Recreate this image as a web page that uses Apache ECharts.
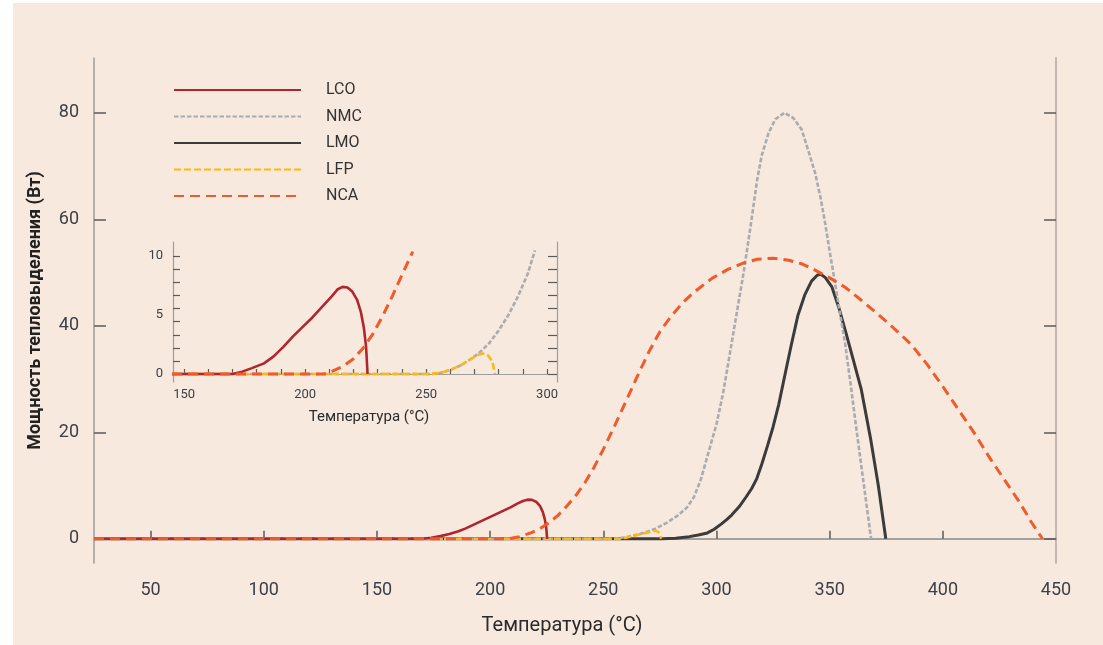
<!DOCTYPE html>
<html>
<head>
<meta charset="utf-8">
<script src="https://cdn.jsdelivr.net/npm/echarts@6/dist/echarts.min.js"></script>
<style>
html,body{margin:0;padding:0;background:#ffffff;}
#bg{position:absolute;left:13px;top:3px;width:1090px;height:642px;background:#f8e9df;}
#chart{position:absolute;left:0;top:0;width:1103px;height:645px;}
</style>
</head>
<body>
<div id="bg"></div>
<div id="chart"></div>
<script>
// ---- data (temperature °C, heat power W) ----
const seriesNames = ['LCO', 'NMC', 'LMO', 'LFP', 'NCA'];
const xTickValues = [50, 100, 150, 200, 250, 300, 350, 400, 450];
const yTickValues = [0, 20, 40, 60, 80];

const LCO = [[25,0],[170,0],[174,0.2],[178,0.5],[182,0.9],[186,1.4],[189,1.9],[193,2.7],[197,3.5],[201,4.3],[205,5.1],[209,5.9],[212,6.6],[214.5,7.1],[216.5,7.35],[218.5,7.3],[220.5,6.9],[222,6.2],[223.3,5.0],[224.2,3.6],[224.8,2.0],[225.2,0]];
const NMC = [[25,0],[255,0],[260,0.3],[265,0.8],[270,1.4],[273,1.9],[278,3.0],[283,4.4],[287,5.9],[290,7.8],[293,11],[297,17],[300,21.5],[303,27.5],[306,35],[309,42.5],[312,50],[315,58.5],[318,67.5],[320,72],[323,76.2],[326,78.8],[330,80],[334,79],[337.7,76.8],[340.5,73],[343.6,68.7],[346,64],[348,59.3],[350,54],[352.4,48],[354.5,42.5],[356.8,36.8],[359.4,28.6],[362,20],[365,10.5],[368.3,0]];
const LMO = [[25,0],[276,0],[282,0.1],[288,0.4],[292,0.7],[296,1.1],[299,1.8],[302.2,2.8],[304.5,3.6],[306.8,4.5],[310,6.0],[313,7.8],[315.5,9.4],[317.7,11.2],[320,14],[322.5,17.4],[325,21],[327.5,25.2],[330,30.3],[333,36.3],[336,42],[339,45.8],[342,48.4],[344.5,49.5],[346,49.7],[348,49.1],[351,47.3],[354,43.5],[357,39],[360,34.3],[364,28],[368,19],[371.5,10],[374.8,0]];
const LFP = [[25,0],[257,0],[260,0.2],[264,0.6],[268,1.0],[271,1.35],[273,1.5],[274.3,1.3],[275,0.8],[275.5,0]];
const NCA = [[25,0],[208,0],[213,0.4],[218,1.1],[222,1.9],[226,3.0],[230,4.4],[234,6.2],[238,8.2],[242,10.6],[246,13.5],[250,16.8],[255,21.2],[260,25.8],[265,30.5],[270,35],[275,38.9],[280,41.8],[285,44.3],[290,46.3],[298,48.9],[305,50.6],[312,51.8],[318,52.5],[325,52.7],[332,52.3],[338,51.6],[342,50.8],[350,49],[357,47.2],[364,44.8],[371,42.3],[379,39.3],[386,36.5],[393,32.8],[400,28.6],[407,24.2],[414,19.8],[421,15],[428,10.6],[434,6.8],[439,3.2],[444,0]];

// inset (zoomed view)
const insetXLabels = [150, 200, 250, 300];
const insetXTicks = [150,160,170,180,190,200,210,220,230,240,250,260,270,280,290,300];
const insetYLabels = [0, 5, 10];
const insetYTicks = [0,1.11,2.22,3.33,4.44,5.56,6.67,7.78,8.89,10];
const insetLCO = [[145,0],[170,0],[174,0.2],[178,0.5],[183,0.9],[187,1.5],[191,2.3],[195,3.2],[199,4.0],[203,4.8],[207,5.7],[211,6.6],[213.5,7.2],[215.5,7.4],[217.5,7.35],[219.5,7.0],[221.5,6.3],[223,5.3],[224.3,3.9],[225.2,2.3],[225.8,0]];
const insetNCA = [[145,0],[208,0],[212,0.3],[216,0.7],[220,1.3],[224,2.2],[228,3.4],[232,4.9],[236,6.6],[240,8.4],[244.5,10.4]];
const insetNMC = [[145,0],[252,0],[256,0.1],[260,0.35],[264,0.7],[268,1.2],[272,1.8],[276,2.6],[280,3.7],[284,5.0],[288,6.6],[292,8.5],[295,10.5]];
const insetLFP = [[145,0],[252,0],[256,0.1],[260,0.35],[264,0.7],[268,1.2],[271,1.6],[273.5,1.75],[275.5,1.6],[277.3,1.1],[278.5,0]];

// ---- styles ----
const FONT = "Roboto, 'Noto Sans', sans-serif";
const labelColor = '#3d4049';
const styles = {
  LCO: {color:'#b1262d', width:2.6, type:'solid'},
  NMC: {color:'#a9abae', width:2.6, type:[4.5,2]},
  LMO: {color:'#3b3b3b', width:3, type:'solid'},
  LFP: {color:'#fdb813', width:2.6, type:[7,3]},
  NCA: {color:'#f15a29', width:3, type:[10,6]}
};
const zOrder = {LMO:2, NMC:3, LFP:4, LCO:5, NCA:6};

function mkSeries(name, data, xi, yi) {
  const s = styles[name];
  return {
    name: name, type:'line', data: data, xAxisIndex: xi, yAxisIndex: yi,
    symbol:'none', showSymbol:false, smooth:false, z: zOrder[name], clip: true,
    lineStyle:{color:s.color, width:s.width, type:s.type},
    itemStyle:{color:s.color}
  };
}

const mainData = {LCO, NMC, LMO, LFP, NCA};
const insetData = {LCO: insetLCO, NCA: insetNCA, NMC: insetNMC, LFP: insetLFP};

const series = [];
seriesNames.forEach(n => series.push(mkSeries(n, mainData[n], 0, 0)));
['NMC','LFP','LCO','NCA'].forEach(n => series.push(mkSeries(n, insetData[n], 2, 2)));

const axisGray = '#9d9d9d';
const tickDark = '#5a5a5a';

const option = {
  animation:false,
  textStyle:{fontFamily:FONT},
  legend:{
    orient:'vertical', left:173, top:82, padding:0, itemWidth:127, itemHeight:14, itemGap:10.5,
    data: seriesNames,
    itemStyle:{opacity:0},
    textStyle:{fontSize:16, color:'#333', fontFamily:FONT, padding:[0,0,0,20]}
  },
  grid:[
    {left:94, top:58, right:47, bottom:82, containLabel:false},
    {left:173, top:242, right:1103-557, bottom:645-382, containLabel:false}
  ],
  xAxis:[
    {gridIndex:0, type:'value', min:25, max:450, position:'bottom',
     name:'Температура (°C)', nameLocation:'middle', nameGap:53,
     nameTextStyle:{fontSize:20, color:'#2b2b2b', fontFamily:FONT, padding:[0,26,0,0]},
     axisLine:{show:true, lineStyle:{color:axisGray, width:1.5}},
     axisTick:{show:true, inside:true, length:8, customValues:[50,100,150,200,250,300,350,400], lineStyle:{color:tickDark, width:1.5}},
     axisLabel:{customValues:xTickValues, margin:18, fontSize:18, color:labelColor, fontFamily:FONT},
     splitLine:{show:false}},
    {gridIndex:0, type:'value', min:25, max:450, position:'top',
     axisLine:{show:true, lineStyle:{color:axisGray, width:1.5}},
     axisTick:{show:false}, axisLabel:{show:false}, splitLine:{show:false}},
    {gridIndex:1, type:'value', min:145.4, max:304.1, position:'bottom',
     name:'Температура (°C)', nameLocation:'middle', nameGap:28,
     nameTextStyle:{fontSize:15, color:'#2b2b2b', fontFamily:FONT, padding:[0,0,0,8]},
     axisLine:{show:true, lineStyle:{color:axisGray, width:1.2}},
     axisTick:{show:true, inside:true, length:5, customValues:insetXTicks, lineStyle:{color:tickDark, width:1.2}},
     axisLabel:{customValues:insetXLabels, margin:6, fontSize:13, color:labelColor, fontFamily:FONT},
     splitLine:{show:false}},
    {gridIndex:1, type:'value', min:145.4, max:304.1, position:'top',
     axisLine:{show:true, lineStyle:{color:axisGray, width:1.2}},
     axisTick:{show:false}, axisLabel:{show:false}, splitLine:{show:false}}
  ],
  yAxis:[
    {gridIndex:0, type:'value', min:-4.55, max:90.3, position:'left',
     name:'Мощность тепловыделения (Вт)', nameLocation:'middle', nameGap:50,
     nameTextStyle:{fontSize:18, fontWeight:'bold', color:'#222', fontFamily:FONT},
     axisLine:{show:true, lineStyle:{color:axisGray, width:1.5}},
     axisTick:{show:true, inside:true, length:12, customValues:yTickValues, lineStyle:{color:tickDark, width:1.5}},
     axisLabel:{customValues:yTickValues, margin:15, fontSize:18, color:labelColor, fontFamily:FONT},
     splitLine:{show:false}},
    {gridIndex:0, type:'value', min:-4.55, max:90.3, position:'right',
     axisLine:{show:true, lineStyle:{color:'#c4b6b2', width:2}},
     axisTick:{show:true, inside:true, length:12, customValues:yTickValues, lineStyle:{color:tickDark, width:1.5}},
     axisLabel:{show:false}, splitLine:{show:false}},
    {gridIndex:1, type:'value', min:-0.68, max:11.21, position:'left',
     axisLine:{show:true, lineStyle:{color:axisGray, width:1.2}},
     axisTick:{show:true, inside:true, length:7, customValues:insetYTicks, lineStyle:{color:tickDark, width:1.2}},
     axisLabel:{customValues:insetYLabels, margin:10, fontSize:13, color:labelColor, fontFamily:FONT},
     splitLine:{show:false}},
    {gridIndex:1, type:'value', min:-0.68, max:11.21, position:'right',
     axisLine:{show:true, lineStyle:{color:axisGray, width:1.2}},
     axisTick:{show:true, inside:true, length:9, customValues:insetYTicks, lineStyle:{color:tickDark, width:1.2}},
     axisLabel:{show:false}, splitLine:{show:false}}
  ],
  series: series
};

const chart = echarts.init(document.getElementById('chart'), null, {renderer:'canvas'});
chart.setOption(option);
</script>
</body>
</html>
